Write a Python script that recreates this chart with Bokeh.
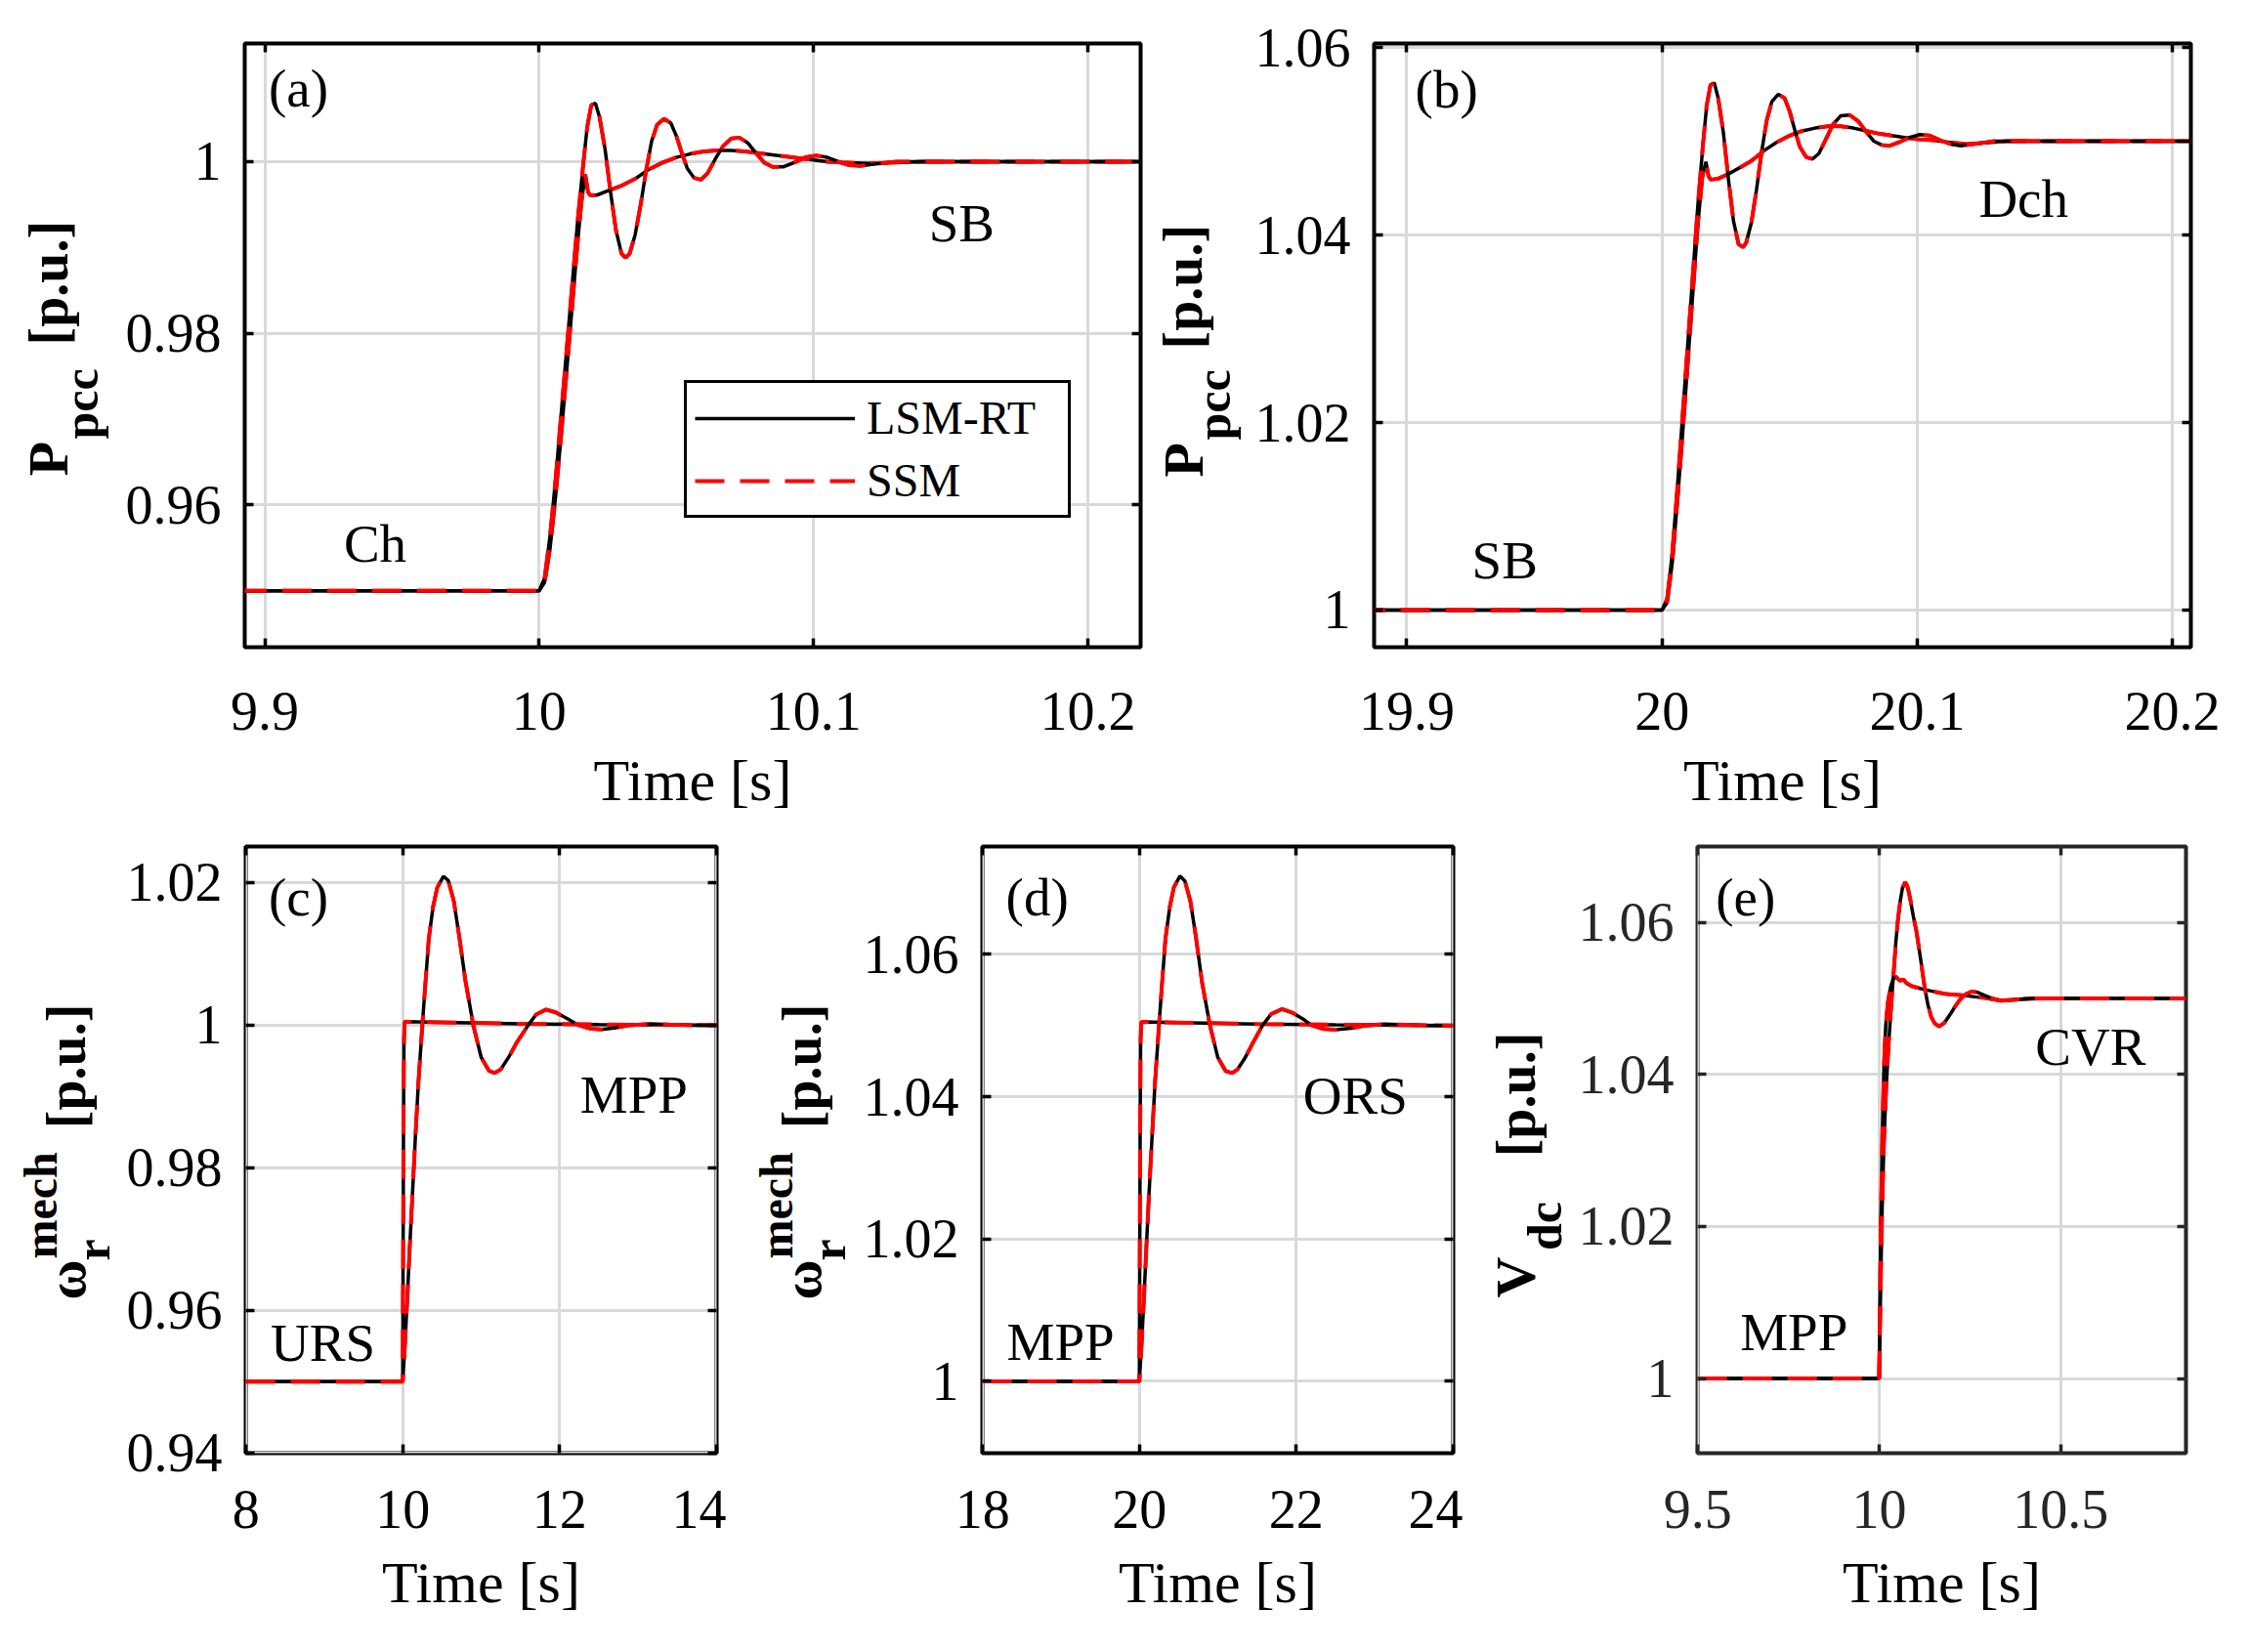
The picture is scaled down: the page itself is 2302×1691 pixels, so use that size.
from math import pi

from bokeh.embed import file_html
from bokeh.layouts import column, row
from bokeh.models import (CustomJSTickFormatter, FixedTicker, Label, Legend,
                          LegendItem, LinearAxis)
from bokeh.plotting import figure
from bokeh.resources import INLINE

# Set vars
FONT = "Liberation Serif"
black = "#000000"
red = "#ff0000"
grid_color = "#d9d9d9"

# ---- data: (time [s], value [p.u.]) ----
a_osc = [(9.89, 0.95), (10.0, 0.95), (10.002, 0.9515), (10.004, 0.9565), (10.006, 0.963),
         (10.008, 0.9705), (10.010, 0.978), (10.012, 0.9855), (10.014, 0.993), (10.016, 0.9995),
         (10.0175, 1.004), (10.019, 1.0066), (10.0205, 1.0068), (10.022, 1.0052), (10.024, 1.0015),
         (10.026, 0.9965), (10.028, 0.992), (10.030, 0.9893), (10.0315, 0.9888), (10.033, 0.9893),
         (10.035, 0.9915), (10.037, 0.995), (10.039, 0.999), (10.041, 1.0024), (10.043, 1.0043),
         (10.0455, 1.005), (10.048, 1.0045), (10.050, 1.003), (10.052, 1.001), (10.054, 0.9992),
         (10.0565, 0.9981), (10.059, 0.9979), (10.0615, 0.9987), (10.064, 1.0002), (10.067, 1.0018),
         (10.070, 1.0027), (10.073, 1.0028), (10.076, 1.0022), (10.079, 1.001), (10.082, 0.9999),
         (10.085, 0.9994), (10.089, 0.9994), (10.093, 0.9999), (10.097, 1.0005), (10.101, 1.0007),
         (10.105, 1.0005), (10.109, 1.0), (10.113, 0.9996), (10.117, 0.9995), (10.122, 0.9997),
         (10.13, 1.0), (10.22, 1.0)]
a_smooth = [(9.89, 0.95), (10.0, 0.95), (10.002, 0.951), (10.004, 0.955), (10.006, 0.961),
            (10.008, 0.968), (10.010, 0.9755), (10.012, 0.983), (10.014, 0.9905), (10.0155, 0.9955),
            (10.0168, 0.9985), (10.0178, 0.9965), (10.0185, 0.9961), (10.021, 0.9961), (10.025, 0.9966),
            (10.030, 0.9972), (10.035, 0.998), (10.040, 0.9991), (10.045, 0.9999), (10.050, 1.0005),
            (10.055, 1.0009), (10.060, 1.0012), (10.065, 1.0013), (10.070, 1.0013), (10.075, 1.0012),
            (10.080, 1.001), (10.085, 1.0008), (10.090, 1.0006), (10.095, 1.0004), (10.100, 1.0002),
            (10.105, 1.0), (10.11, 0.9999), (10.12, 0.9998), (10.13, 0.9999), (10.14, 1.0), (10.22, 1.0)]

b_osc = [(19.88, 1.0), (20.0, 1.0), (20.002, 1.0012), (20.004, 1.006), (20.006, 1.013),
         (20.008, 1.0205), (20.010, 1.028), (20.012, 1.0355), (20.014, 1.043), (20.016, 1.0495),
         (20.0175, 1.0538), (20.019, 1.056), (20.0205, 1.0562), (20.022, 1.0546), (20.024, 1.051),
         (20.026, 1.046), (20.028, 1.0415), (20.030, 1.039), (20.0318, 1.0387), (20.033, 1.0392),
         (20.035, 1.0413), (20.037, 1.0448), (20.039, 1.0488), (20.041, 1.0522), (20.043, 1.0542),
         (20.0455, 1.055), (20.048, 1.0546), (20.050, 1.0532), (20.052, 1.0512), (20.054, 1.0494),
         (20.0565, 1.0483), (20.059, 1.0481), (20.0615, 1.0487), (20.064, 1.0501), (20.067, 1.0518),
         (20.070, 1.0527), (20.0735, 1.0528), (20.077, 1.0521), (20.080, 1.051), (20.083, 1.05),
         (20.086, 1.0496), (20.089, 1.0495), (20.093, 1.0499), (20.097, 1.0504), (20.101, 1.0507),
         (20.105, 1.0506), (20.109, 1.0501), (20.113, 1.0497), (20.117, 1.0495), (20.122, 1.0497),
         (20.13, 1.05), (20.21, 1.05)]
b_smooth = [(19.88, 1.0), (20.0, 1.0), (20.002, 1.0008), (20.004, 1.005), (20.006, 1.0115),
            (20.008, 1.0185), (20.010, 1.026), (20.012, 1.0335), (20.014, 1.041), (20.0158, 1.0462),
            (20.0172, 1.0478), (20.0182, 1.0463), (20.019, 1.0459), (20.022, 1.046), (20.026, 1.0465),
            (20.030, 1.0471), (20.035, 1.0479), (20.040, 1.049), (20.045, 1.0499), (20.050, 1.0506),
            (20.055, 1.0511), (20.060, 1.0514), (20.065, 1.0516), (20.070, 1.0516), (20.075, 1.0514),
            (20.080, 1.0511), (20.085, 1.0508), (20.090, 1.0506), (20.095, 1.0504), (20.100, 1.0502),
            (20.106, 1.0501), (20.112, 1.0499), (20.119, 1.0497), (20.125, 1.0498), (20.135, 1.05),
            (20.21, 1.05)]

c_step = [(8, 0.95), (10.0, 0.95), (10.004, 0.965), (10.01, 0.985), (10.016, 0.998),
          (10.025, 1.0005), (10.5, 1.0004), (11.5, 1.0002), (12.5, 1.0001), (14, 1.0)]
c_osc = [(8, 0.95), (10.0, 0.95), (10.03, 0.9555), (10.06, 0.962), (10.09, 0.969), (10.125, 0.9765),
         (10.16, 0.984), (10.2, 0.992), (10.25, 1.0), (10.29, 1.006), (10.333, 1.0122), (10.387, 1.0166),
         (10.44, 1.0193), (10.52, 1.0209), (10.58, 1.0203), (10.65, 1.0175), (10.72, 1.0125),
         (10.8, 1.0062), (10.9, 1.0), (11.0, 0.9955), (11.1, 0.9936), (11.175, 0.9933), (11.25, 0.9938),
         (11.35, 0.9955), (11.45, 0.9975), (11.6, 1.0), (11.7, 1.0015), (11.827, 1.0022), (11.95, 1.0018),
         (12.1, 1.0009), (12.24, 1.0), (12.4, 0.9995), (12.533, 0.9994), (12.7, 0.9996), (12.9, 1.0),
         (13.156, 1.0002), (13.4, 1.0001), (13.7, 1.0), (14, 1.0)]

d_step = [(18, 1.0), (20.0, 1.0), (20.004, 1.015), (20.01, 1.035), (20.016, 1.048),
          (20.025, 1.0505), (20.5, 1.0504), (21.5, 1.0502), (22.5, 1.0501), (24, 1.05)]
d_osc = [(18, 1.0), (20.0, 1.0), (20.03, 1.0055), (20.06, 1.012), (20.09, 1.019), (20.124, 1.0265),
         (20.16, 1.034), (20.2, 1.042), (20.25, 1.05), (20.29, 1.056), (20.333, 1.0622), (20.387, 1.0666),
         (20.44, 1.0694), (20.518, 1.071), (20.58, 1.0703), (20.65, 1.0675), (20.72, 1.0625),
         (20.8, 1.056), (20.9, 1.05), (21.0, 1.0455), (21.1, 1.0436), (21.18, 1.0433), (21.25, 1.0438),
         (21.35, 1.0455), (21.45, 1.0476), (21.57, 1.05), (21.68, 1.0516), (21.82, 1.0523), (21.95, 1.0518),
         (22.1, 1.0508), (22.2, 1.05), (22.35, 1.0495), (22.505, 1.0494), (22.7, 1.0496), (22.9, 1.05),
         (23.127, 1.0502), (23.4, 1.0501), (23.7, 1.05), (24, 1.05)]

e_osc = [(9.5, 1.0), (10.0, 1.0), (10.004, 1.012), (10.008, 1.022), (10.013, 1.031), (10.019, 1.038),
         (10.026, 1.044), (10.033, 1.049), (10.04, 1.0535), (10.046, 1.0575), (10.052, 1.0605),
         (10.058, 1.0628), (10.064, 1.0645), (10.0714, 1.0653), (10.078, 1.0647), (10.085, 1.0632),
         (10.094, 1.0608), (10.103, 1.0587), (10.114, 1.0552), (10.125, 1.0515), (10.134, 1.0492),
         (10.143, 1.0476), (10.153, 1.0467), (10.165, 1.0463), (10.18, 1.0468), (10.197, 1.048),
         (10.21, 1.049), (10.2235, 1.0499), (10.24, 1.0506), (10.255, 1.0509), (10.27, 1.0508),
         (10.29, 1.0504), (10.31, 1.05), (10.335, 1.0497), (10.37, 1.0498), (10.42, 1.05), (10.85, 1.05)]
e_smooth = [(9.5, 1.0), (10.0, 1.0), (10.002, 1.01), (10.005, 1.022), (10.009, 1.033), (10.013, 1.041),
            (10.018, 1.0465), (10.024, 1.0495), (10.031, 1.0514), (10.038, 1.0525), (10.0445, 1.0529),
            (10.051, 1.0526), (10.058, 1.0523), (10.066, 1.0525), (10.075, 1.052), (10.09, 1.0516),
            (10.105, 1.0514), (10.121, 1.0512), (10.14, 1.051), (10.16, 1.0508), (10.18, 1.0506),
            (10.201, 1.0505), (10.23, 1.0504), (10.264, 1.0502), (10.3, 1.05), (10.335, 1.0497),
            (10.38, 1.0499), (10.45, 1.05), (10.85, 1.05)]

# ticks and tick labels
a_xticks, a_xlabels = [9.9, 10, 10.1, 10.2], ["9.9", "10", "10.1", "10.2"]
a_yticks, a_ylabels = [0.96, 0.98, 1.0], ["0.96", "0.98", "1"]
b_xticks, b_xlabels = [19.9, 20, 20.1, 20.2], ["19.9", "20", "20.1", "20.2"]
b_yticks, b_ylabels = [1.0, 1.02, 1.04, 1.06], ["1", "1.02", "1.04", "1.06"]
c_xticks, c_xlabels = [8, 10, 12, 14], ["8", "10", "12", "14"]
c_yticks, c_ylabels = [0.94, 0.96, 0.98, 1.0, 1.02], ["0.94", "0.96", "0.98", "1", "1.02"]
d_xticks, d_xlabels = [18, 20, 22, 24], ["18", "20", "22", "24"]
d_yticks, d_ylabels = [1.0, 1.02, 1.04, 1.06], ["1", "1.02", "1.04", "1.06"]
e_xticks, e_xlabels = [9.5, 10, 10.5], ["9.5", "10", "10.5"]
e_yticks, e_ylabels = [1.0, 1.02, 1.04, 1.06], ["1", "1.02", "1.04", "1.06"]

TXT_SHIFT = 18   # Label baseline correction, px
ROT_SHIFT = 21   # same for the rotated titles

H1, H2 = 850, 835
ROW1_FRAME = (44, 662)                 # page y of frame top / bottom, row 1
ROW2_FRAME = (H1 + 16, H1 + 16 + 621)  # row 2


def style_axis(ax, ticker, labels, color, standoff):
    ax.ticker = ticker
    ax.axis_line_color = None
    ax.major_tick_in = 9
    ax.major_tick_out = 0
    ax.major_tick_line_width = 3.5
    ax.major_tick_line_color = color
    ax.minor_tick_line_color = None
    if labels is None:
        # mirrored box ticks, no labels
        ax.formatter = CustomJSTickFormatter(code="return ''")
        ax.major_label_text_font_size = "1px"
        ax.major_label_standoff = 0
    else:
        ax.major_label_overrides = labels
        ax.major_label_text_font = FONT
        ax.major_label_text_font_size = "56px"
        ax.major_label_text_color = color
        ax.major_label_standoff = standoff


def make_panel(width, height, borders, xr, yr, xticks, xlabels, yticks, ylabels,
               color=black, xstand=46, tstand=16):
    left, right, top, bottom = borders
    p = figure(width=width, height=height, x_range=xr, y_range=yr, title=None,
               toolbar_location=None, tools="", output_backend="svg",
               min_border_left=left, min_border_right=right,
               min_border_top=top, min_border_bottom=bottom)
    p.background_fill_color = "white"
    p.border_fill_color = "white"
    p.outline_line_color = color
    p.outline_line_width = 4

    xt = FixedTicker(ticks=xticks)
    yt = FixedTicker(ticks=yticks)
    xb = p.xaxis[0]
    yl = p.yaxis[0]
    style_axis(xb, xt, dict(zip(xticks, xlabels)), color, xstand)
    style_axis(yl, yt, dict(zip(yticks, ylabels)), color, 24)
    xb.axis_label = "Time [s]"
    xb.axis_label_text_font = FONT
    xb.axis_label_text_font_size = "60px"
    xb.axis_label_text_font_style = "normal"
    xb.axis_label_text_color = black
    xb.axis_label_standoff = tstand

    top_ax = LinearAxis()
    style_axis(top_ax, xt, None, color, 0)
    p.add_layout(top_ax, "above")
    right_ax = LinearAxis()
    style_axis(right_ax, yt, None, color, 0)
    p.add_layout(right_ax, "right")

    p.xgrid.ticker = xt
    p.ygrid.ticker = yt
    p.grid.grid_line_color = grid_color
    p.grid.grid_line_width = 3
    return p


def title_fig(x0, w, h, frame, pieces):
    # strip holding the rotated y title; its frame lines up with the row's frames,
    # and its data units are page pixels
    t = figure(width=w, height=h, x_range=(x0, x0 + w), y_range=(frame[1], frame[0]), title=None,
               toolbar_location=None, tools="", output_backend="svg",
               x_axis_location=None, y_axis_location=None, min_border=0)
    t.outline_line_color = None
    t.grid.visible = False
    t.background_fill_color = "white"
    t.border_fill_color = "white"
    for text, size, bx, by in pieces:
        t.add_layout(Label(x=bx, y=by, x_offset=-ROT_SHIFT, text=text, angle=pi / 2,
                           text_font=FONT, text_font_size=f"{size}px", text_font_style="bold",
                           text_color=black, text_align="left", text_baseline="alphabetic"))
    return t


def draw_pair(p, pts):
    t = [q[0] for q in pts]
    v = [q[1] for q in pts]
    rb = p.line(t, v, line_color=black, line_width=3.5)
    rr = p.line(t, v, line_color=red, line_width=4, line_dash="30 16")
    return rb, rr


def notes(p, items):
    for x, y, text in items:
        p.add_layout(Label(x=x, y=y, y_offset=TXT_SHIFT, text=text, text_font=FONT,
                           text_font_size="55px", text_color=black,
                           text_align="left", text_baseline="alphabetic"))


# ---- (a) ----
a_xr, a_yr = (9.8927, 10.2192), (0.94343, 1.01377)
ta = title_fig(0, 120, H1, ROW1_FRAME,
               [("P", 58, 70, 486.7), ("pcc", 50, 103, 449), ("[p.u.]", 56, 70, 353)])
pa = make_panel(1057, H1, (130, 10, 44, 188), a_xr, a_yr, a_xticks, a_xlabels, a_yticks, a_ylabels)
draw_pair(pa, a_smooth)
rb, rr = draw_pair(pa, a_osc)
notes(pa, [(9.9014, 1.00645, "(a)"), (9.9288, 0.95347, "Ch"), (10.142, 0.9908, "SB")])
legend = Legend(items=[LegendItem(label="LSM-RT", renderers=[rb]),
                       LegendItem(label="SSM", renderers=[rr])],
                location=(450, 132), margin=0, padding=8, spacing=9,
                glyph_width=164, glyph_height=50, label_height=50, label_width=198,
                label_standoff=12, label_text_font=FONT, label_text_font_size="48px",
                label_text_color=black, border_line_color=black, border_line_width=3.5,
                border_line_alpha=1, background_fill_color="white", background_fill_alpha=1)
pa.add_layout(legend)

# ---- (b) ----
b_xr, b_yr = (19.8872, 20.2072), (0.99604, 1.06042)
tb = title_fig(1177, 100, H1, ROW1_FRAME,
               [("P", 58, 1231.6, 488), ("pcc", 50, 1262, 450), ("[p.u.]", 56, 1231.6, 357)])
pb = make_panel(995, H1, (129, 30, 44, 188), b_xr, b_yr, b_xticks, b_xlabels, b_yticks, b_ylabels)
draw_pair(pb, b_smooth)
draw_pair(pb, b_osc)
notes(pb, [(19.9033, 1.05365, "(b)"), (19.9255, 1.00344, "SB"), (20.1241, 1.04195, "Dch")])

# ---- (c) ----
c_xr, c_yr = (7.998, 14.002), (0.93995, 1.02507)
tc = title_fig(0, 122, H2, ROW2_FRAME,
               [("ω", 56, 88.3, 1330), ("mech", 48, 61.7, 1288), ("r", 50, 115, 1290),
                ("[p.u.]", 56, 88.3, 1154.7)])
pc = make_panel(621, H2, (129, 10, 16, 198), c_xr, c_yr, c_xticks, c_xlabels, c_yticks, c_ylabels,
                xstand=38, tstand=20)
draw_pair(pc, c_step)
draw_pair(pc, c_osc)
notes(pc, [(8.291, 1.01544, "(c)"), (8.316, 0.953, "URS"), (12.261, 0.98784, "MPP")])

# ---- (d) ----
d_xr, d_yr = (17.998, 24.002), (0.9899, 1.07514)
td = title_fig(743, 137, H2, ROW2_FRAME,
               [("ω", 56, 841.3, 1330), ("mech", 48, 814.7, 1288), ("r", 50, 868, 1290),
                ("[p.u.]", 56, 841.3, 1154.7)])
pd_ = make_panel(617, H2, (124, 10, 16, 198), d_xr, d_yr, d_xticks, d_xlabels, d_yticks, d_ylabels,
                 xstand=38, tstand=20)
draw_pair(pd_, d_step)
draw_pair(pd_, d_osc)
notes(pd_, [(18.298, 1.0655, "(d)"), (18.31, 1.00303, "MPP"), (22.087, 1.03772, "ORS")])

# ---- (e) ----
e_xr, e_yr = (9.4995, 10.845), (0.99018, 1.06997)
te = title_fig(1497, 115, H2, ROW2_FRAME,
               [("V", 58, 1572, 1328), ("dc", 50, 1601.6, 1279.5), ("[p.u.]", 56, 1572, 1183.8)])
pe = make_panel(655, H2, (124, 30, 16, 198), e_xr, e_yr, e_xticks, e_xlabels, e_yticks, e_ylabels,
                color="#262626", xstand=38, tstand=20)
draw_pair(pe, e_smooth)
draw_pair(pe, e_osc)
notes(pe, [(9.55, 1.06094, "(e)"), (9.6171, 1.00376, "MPP"), (10.43, 1.04131, "CVR")])

p = column(row(ta, pa, tb, pb), row(tc, pc, td, pd_, te, pe))
open("out.html", "w").write(file_html(p, INLINE))
